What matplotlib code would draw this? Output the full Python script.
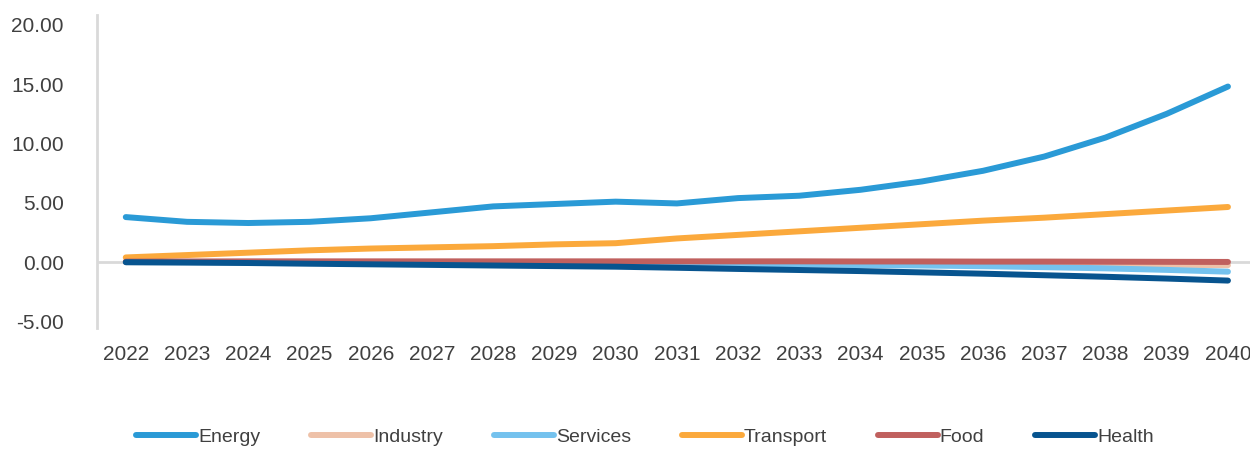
import matplotlib.pyplot as plt

years = list(range(2022, 2041))

energy = [3.8, 3.4, 3.3, 3.4, 3.7, 4.2, 4.7, 4.9, 5.1, 4.95, 5.4, 5.6, 6.1, 6.8, 7.7, 8.9, 10.5, 12.5, 14.8]
industry = [0.0, 0.0, -0.02, -0.04, -0.06, -0.08, -0.1, -0.11, -0.12, -0.13, -0.14, -0.15, -0.16, -0.17, -0.18, -0.19, -0.2, -0.22, -0.25]
services = [0.0, -0.01, -0.02, -0.04, -0.06, -0.08, -0.1, -0.12, -0.14, -0.16, -0.18, -0.2, -0.24, -0.28, -0.34, -0.42, -0.52, -0.65, -0.8]
transport = [0.4, 0.6, 0.8, 1.0, 1.15, 1.25, 1.35, 1.5, 1.6, 2.0, 2.3, 2.6, 2.9, 3.2, 3.5, 3.75, 4.05, 4.35, 4.65]
food = [0.05, 0.06, 0.07, 0.07, 0.07, 0.07, 0.07, 0.07, 0.07, 0.07, 0.07, 0.07, 0.06, 0.06, 0.05, 0.05, 0.04, 0.03, 0.02]
health = [0.0, -0.03, -0.07, -0.13, -0.18, -0.23, -0.28, -0.33, -0.38, -0.47, -0.57, -0.66, -0.75, -0.86, -0.97, -1.1, -1.23, -1.38, -1.55]

series = [
    ('Energy', energy, '#2A9AD6'),
    ('Industry', industry, '#EEC1A8'),
    ('Services', services, '#74C2EE'),
    ('Transport', transport, '#FBA93C'),
    ('Food', food, '#C0605E'),
    ('Health', health, '#07548F'),
]

plt.rcParams['font.family'] = ['Liberation Sans', 'DejaVu Sans']

fig = plt.figure(figsize=(12.5, 4.5), dpi=100)
ax = fig.add_axes([0.0776, 0.271, 0.9224, 0.696])

ax.axhline(0, color='#D9D9D9', lw=2, zorder=1)
for name, vals, color in series:
    ax.plot(years, vals, color=color, lw=4.3, label=name,
            solid_capstyle='round', solid_joinstyle='round', zorder=2)

ax.set_xlim(2021.53, 2040.36)
ax.set_ylim(-5.55, 20.84)
ax.set_yticks([-5, 0, 5, 10, 15, 20])
ax.set_yticklabels([f'{v:.2f}' for v in [-5, 0, 5, 10, 15, 20]])
ax.set_xticks(years)

for s in ['top', 'right', 'bottom']:
    ax.spines[s].set_visible(False)
ax.spines['left'].set_color('#D9D9D9')
ax.spines['left'].set_linewidth(2)

ax.tick_params(axis='both', length=0, labelsize=15, colors='#404040')
ax.tick_params(axis='y', pad=24)
ax.tick_params(axis='x', pad=12)

fig.legend(loc='lower center', bbox_to_anchor=(0.516, -0.03), ncol=6, frameon=False,
           prop={'family': ['Liberation Sans Narrow', 'Liberation Sans'], 'size': 14},
           handlelength=3.1, handletextpad=0.1, columnspacing=2.6,
           labelcolor='#404040')

fig.savefig('out.png', dpi=100)
